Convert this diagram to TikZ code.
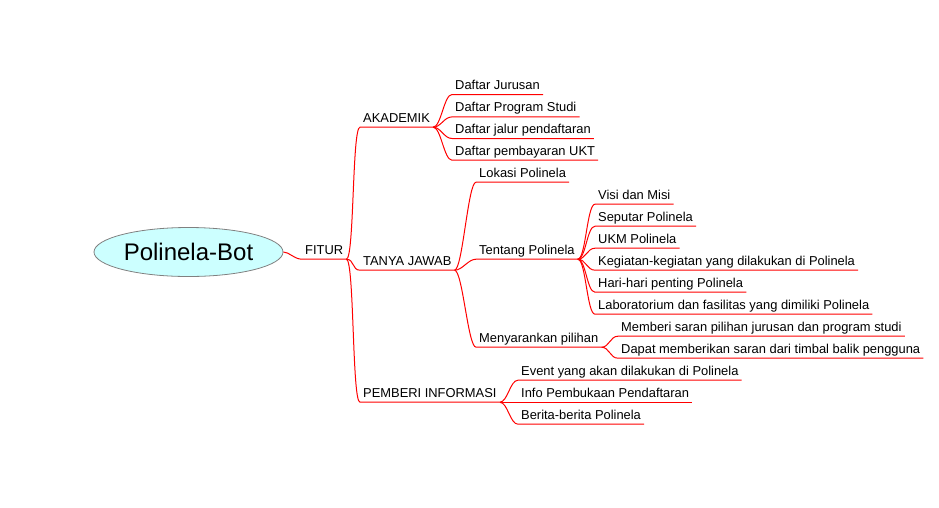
\documentclass[tikz,border=0pt]{standalone}
\usepackage{fontspec}
\setmainfont{Liberation Sans}
\usetikzlibrary{shapes.geometric}
\definecolor{rootfill}{RGB}{204,255,255}

\begin{document}
\begin{tikzpicture}[x=1pt, y=-1pt,
  topic/.style={anchor=base west, inner xsep=3pt, inner ysep=0pt, text depth=5pt, font=\fontsize{12.9}{15}\selectfont},
  edge/.style={red, line width=1pt}]
\useasboundingbox (0,0) rectangle (939,507);
\node[ellipse, draw=gray, fill=rootfill, line width=0.8pt, inner sep=0pt, minimum width=189pt, minimum height=49pt, font=\fontsize{24}{28}\selectfont] (root) at (188.5,252) {Polinela-Bot};
\node[topic] (fitur) at (302,254) {FITUR};
\node[topic] (akademik) at (360,122) {AKADEMIK};
\node[topic] (tanya) at (360,265) {TANYA JAWAB};
\node[topic] (pemberi) at (360,397) {PEMBERI INFORMASI};
\node[topic] (jurusan) at (452,89.3) {Daftar Jurusan};
\node[topic] (prodi) at (452,111.7) {Daftar Program Studi};
\node[topic] (jalur) at (452,133.3) {Daftar jalur pendaftaran};
\node[topic] (ukt) at (452,155) {Daftar pembayaran UKT};
\node[topic] (lokasi) at (476,177) {Lokasi Polinela};
\node[topic] (tentang) at (476,254) {Tentang Polinela};
\node[topic] (saran) at (476,342) {Menyarankan pilihan};
\node[topic] (visi) at (595,199) {Visi dan Misi};
\node[topic] (seputar) at (595,221) {Seputar Polinela};
\node[topic] (ukm) at (595,243) {UKM Polinela};
\node[topic] (kegiatan) at (595,265) {Kegiatan-kegiatan yang dilakukan di Polinela};
\node[topic] (hari) at (595,287) {Hari-hari penting Polinela};
\node[topic] (lab) at (595,309) {Laboratorium dan fasilitas yang dimiliki Polinela};
\node[topic] (memberi) at (618,331) {Memberi saran pilihan jurusan dan program studi};
\node[topic] (dapat) at (618,353) {Dapat memberikan saran dari timbal balik pengguna};
\node[topic] (event) at (518,375) {Event yang akan dilakukan di Polinela};
\node[topic] (info) at (518,397) {Info Pembukaan Pendaftaran};
\node[topic] (berita) at (518,419) {Berita-berita Polinela};
% branches
\draw[edge] (root.east) .. controls +(6,0) and +(-8,0) .. (fitur.south west) -- (fitur.south east);
\draw[edge] (fitur.south east) .. controls +(8,0) and +(-8,0) .. (akademik.south west) -- (akademik.south east);
\draw[edge] (fitur.south east) .. controls +(8,0) and +(-8,0) .. (tanya.south west) -- (tanya.south east);
\draw[edge] (fitur.south east) .. controls +(8,0) and +(-8,0) .. (pemberi.south west) -- (pemberi.south east);
\draw[edge] (akademik.south east) .. controls +(8,0) and +(-8,0) .. (jurusan.south west) -- (jurusan.south east);
\draw[edge] (akademik.south east) .. controls +(8,0) and +(-8,0) .. (prodi.south west) -- (prodi.south east);
\draw[edge] (akademik.south east) .. controls +(8,0) and +(-8,0) .. (jalur.south west) -- (jalur.south east);
\draw[edge] (akademik.south east) .. controls +(8,0) and +(-8,0) .. (ukt.south west) -- (ukt.south east);
\draw[edge] (tanya.south east) .. controls +(8,0) and +(-8,0) .. (lokasi.south west) -- (lokasi.south east);
\draw[edge] (tanya.south east) .. controls +(8,0) and +(-8,0) .. (tentang.south west) -- (tentang.south east);
\draw[edge] (tanya.south east) .. controls +(8,0) and +(-8,0) .. (saran.south west) -- (saran.south east);
\draw[edge] (tentang.south east) .. controls +(8,0) and +(-8,0) .. (visi.south west) -- (visi.south east);
\draw[edge] (tentang.south east) .. controls +(8,0) and +(-8,0) .. (seputar.south west) -- (seputar.south east);
\draw[edge] (tentang.south east) .. controls +(8,0) and +(-8,0) .. (ukm.south west) -- (ukm.south east);
\draw[edge] (tentang.south east) .. controls +(8,0) and +(-8,0) .. (kegiatan.south west) -- (kegiatan.south east);
\draw[edge] (tentang.south east) .. controls +(8,0) and +(-8,0) .. (hari.south west) -- (hari.south east);
\draw[edge] (tentang.south east) .. controls +(8,0) and +(-8,0) .. (lab.south west) -- (lab.south east);
\draw[edge] (saran.south east) .. controls +(8,0) and +(-8,0) .. (memberi.south west) -- (memberi.south east);
\draw[edge] (saran.south east) .. controls +(8,0) and +(-8,0) .. (dapat.south west) -- (dapat.south east);
\draw[edge] (pemberi.south east) .. controls +(8,0) and +(-8,0) .. (event.south west) -- (event.south east);
\draw[edge] (pemberi.south east) .. controls +(8,0) and +(-8,0) .. (info.south west) -- (info.south east);
\draw[edge] (pemberi.south east) .. controls +(8,0) and +(-8,0) .. (berita.south west) -- (berita.south east);
\end{tikzpicture}
\end{document}
